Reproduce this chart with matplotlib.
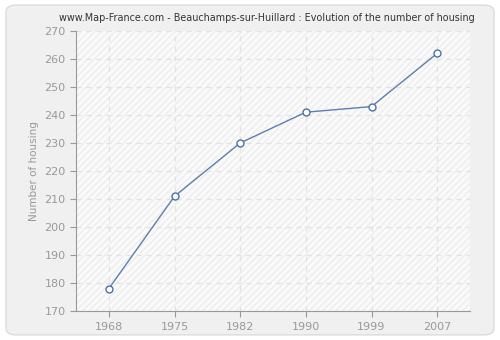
import matplotlib
matplotlib.use("Agg")
import matplotlib.pyplot as plt
from matplotlib.patches import FancyBboxPatch, Rectangle

years = ["1968", "1975", "1982", "1990", "1999", "2007"]
housing = [178, 211, 230, 241, 243, 262]

fig = plt.figure(figsize=(5, 3.4), dpi=100)
fig.patch.set_facecolor("white")
bg = FancyBboxPatch((0.012, 0.015), 0.976, 0.97, boxstyle="round,pad=0,rounding_size=0.02",
                    transform=fig.transFigure, facecolor="#f0f0f0", edgecolor="#dcdcdc", lw=1,
                    zorder=-10)
fig.patches.append(bg)

ax = fig.add_axes([0.152, 0.085, 0.788, 0.824])
ax.set_facecolor("#fafafa")
ax.add_patch(Rectangle((0, 0), 1, 1, transform=ax.transAxes, facecolor="none",
                       edgecolor="#ededed", hatch="/////", lw=0, zorder=0))

x = list(range(len(years)))
ax.plot(x, housing, color="#5b80ad", lw=1, marker="o", markersize=5,
        markerfacecolor="white", markeredgecolor="#4a72a8", markeredgewidth=1, zorder=3)

ax.set_xlim(-0.5, len(years) - 0.5)
ax.set_ylim(170, 270)
ax.set_xticks(x)
ax.set_xticklabels(years)
ax.set_yticks(range(170, 271, 10))
ax.grid(True, color="#e2e2e2", linestyle=(0, (4, 4)), lw=0.9)
ax.set_axisbelow(True)

for s in ["top", "right"]:
    ax.spines[s].set_visible(False)
for s in ["left", "bottom"]:
    ax.spines[s].set_color("#999999")
ax.tick_params(colors="#999999", labelcolor="#999999", labelsize=8, length=4)
ax.set_ylabel("Number of housing", color="#999999", fontsize=7.5)
fig.text(0.534, 0.947, "www.Map-France.com - Beauchamps-sur-Huillard : Evolution of the number of housing",
         fontsize=6.9, color="#333333", ha="center", va="center")

fig.savefig("out.png", dpi=100, facecolor=fig.get_facecolor())
